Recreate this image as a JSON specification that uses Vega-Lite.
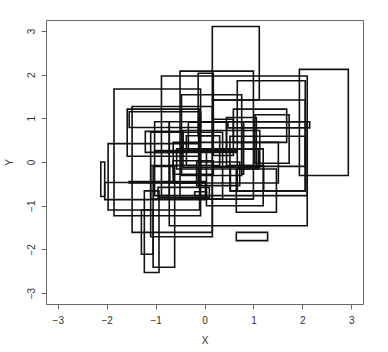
{
  "$schema": "https://vega.github.io/schema/vega-lite/v6.json",
  "width": 317,
  "height": 284,
  "autosize": {"type": "none"},
  "padding": {"left": 46, "top": 20, "right": 25, "bottom": 48},
  "background": "white",
  "config": {
    "view": {"stroke": "#666", "strokeWidth": 1},
    "axis": {"labelFont": "Liberation Sans", "titleFont": "Liberation Sans", "labelFontSize": 10, "titleFontSize": 10, "titleFontWeight": "normal", "labelColor": "#333", "titleColor": "#333", "tickColor": "#666", "domain": false, "grid": false, "tickSize": 5}
  },
  "data": {"values": [
    {"x1": 0.16, "x2": 1.12, "y1": 3.10, "y2": 1.42},
    {"x1": 1.94, "x2": 2.94, "y1": 2.12, "y2": -0.31},
    {"x1": -1.85, "x2": -0.08, "y1": 1.67, "y2": -1.23},
    {"x1": -1.97, "x2": -0.10, "y1": 0.42, "y2": -1.10},
    {"x1": -2.12, "x2": -2.04, "y1": 0.00, "y2": -0.79},
    {"x1": -2.04, "x2": 0.02, "y1": -0.47, "y2": -0.86},
    {"x1": -1.54, "x2": 0.02, "y1": -0.45, "y2": -0.48},
    {"x1": -1.48, "x2": 0.16, "y1": 1.27, "y2": -1.61},
    {"x1": -1.58, "x2": -0.10, "y1": 1.21, "y2": 0.13},
    {"x1": -1.54, "x2": -0.08, "y1": 1.15, "y2": 0.79},
    {"x1": -1.29, "x2": -1.05, "y1": -1.10, "y2": -2.11},
    {"x1": -1.23, "x2": -0.93, "y1": -0.66, "y2": -2.53},
    {"x1": -1.05, "x2": -0.61, "y1": -0.10, "y2": -2.41},
    {"x1": -1.10, "x2": 0.16, "y1": -0.08, "y2": -1.71},
    {"x1": -0.88, "x2": 2.10, "y1": 1.97, "y2": -0.77},
    {"x1": -0.72, "x2": 2.10, "y1": 0.92, "y2": -1.46},
    {"x1": 0.65, "x2": 1.29, "y1": -1.61, "y2": -1.80},
    {"x1": 0.65, "x2": 1.47, "y1": -0.16, "y2": -1.15},
    {"x1": -0.50, "x2": 1.00, "y1": 2.08, "y2": -0.85},
    {"x1": -0.13, "x2": 0.18, "y1": 2.03, "y2": 0.60},
    {"x1": 0.67, "x2": 2.06, "y1": 1.86, "y2": -0.66},
    {"x1": 1.03, "x2": 1.73, "y1": 1.08, "y2": -0.03},
    {"x1": 0.52, "x2": 2.06, "y1": 0.59, "y2": -0.66},
    {"x1": -0.47, "x2": 0.76, "y1": 1.54, "y2": -0.31},
    {"x1": 0.16, "x2": 2.06, "y1": 1.42, "y2": -0.10},
    {"x1": 0.48, "x2": 2.15, "y1": 0.92, "y2": 0.78},
    {"x1": -0.64, "x2": 1.51, "y1": 0.45, "y2": -0.48},
    {"x1": -1.02, "x2": -0.72, "y1": 0.92, "y2": -0.77},
    {"x1": -1.21, "x2": -0.44, "y1": 0.70, "y2": 0.22},
    {"x1": -1.10, "x2": 0.37, "y1": 0.68, "y2": -0.85},
    {"x1": -0.44, "x2": 1.13, "y1": 0.72, "y2": -0.12},
    {"x1": -0.95, "x2": 0.10, "y1": -0.58, "y2": -0.81},
    {"x1": -0.20, "x2": 0.04, "y1": -0.68, "y2": -0.77},
    {"x1": -0.16, "x2": 0.72, "y1": 0.00, "y2": -0.54},
    {"x1": 0.53, "x2": 1.21, "y1": -0.08, "y2": -0.66},
    {"x1": -0.64, "x2": 0.18, "y1": 0.03, "y2": -0.28},
    {"x1": -0.12, "x2": -0.08, "y1": 1.06, "y2": -0.54},
    {"x1": 0.76, "x2": 0.80, "y1": 0.91, "y2": -0.28},
    {"x1": -1.02, "x2": 0.65, "y1": 0.26, "y2": 0.22},
    {"x1": -0.57, "x2": 1.10, "y1": 0.30, "y2": -0.16},
    {"x1": -0.33, "x2": 0.45, "y1": 0.91, "y2": 0.30},
    {"x1": 0.59, "x2": 1.68, "y1": 1.21, "y2": 0.45},
    {"x1": 0.45, "x2": 1.06, "y1": 1.02, "y2": -0.08},
    {"x1": 0.18, "x2": 0.59, "y1": 0.98, "y2": 0.15},
    {"x1": -0.71, "x2": -0.16, "y1": -0.08, "y2": -0.47},
    {"x1": 0.04, "x2": 1.20, "y1": 0.30, "y2": -1.00},
    {"x1": -0.37, "x2": 0.31, "y1": 0.60, "y2": -0.08}
  ]},
  "mark": {"type": "rect", "fill": null, "fillOpacity": 0, "stroke": "#111", "strokeWidth": 1.6},
  "encoding": {
    "x": {"field": "x1", "type": "quantitative", "scale": {"domain": [-3.24, 3.24], "nice": false, "zero": false},
      "axis": {"values": [-3, -2, -1, 0, 1, 2, 3], "title": "X", "labelPadding": 6, "titlePadding": 10}},
    "x2": {"field": "x2"},
    "y": {"field": "y1", "type": "quantitative", "scale": {"domain": [-3.25, 3.25], "nice": false, "zero": false},
      "axis": {"values": [-3, -2, -1, 0, 1, 2, 3], "title": "Y", "labelAngle": -90, "labelAlign": "center", "labelBaseline": "bottom", "labelPadding": 5, "titlePadding": 12}},
    "y2": {"field": "y2"}
  }
}
